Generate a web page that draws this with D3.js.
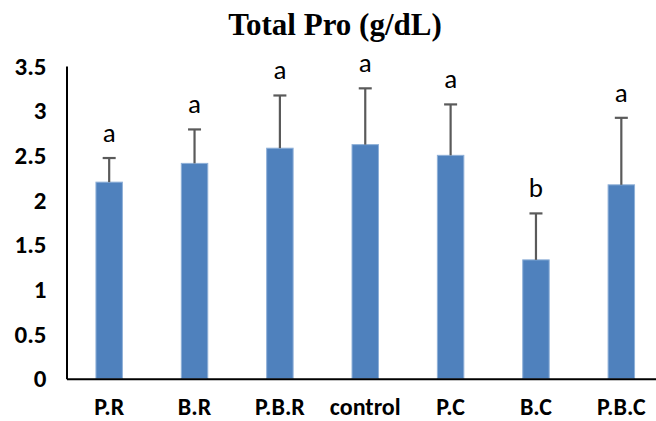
<!DOCTYPE html>
<html>
<head>
<meta charset="utf-8">
<script src="https://cdn.jsdelivr.net/npm/d3@7"></script>
<style>
  html, body { margin: 0; padding: 0; background: #fff; }
  svg { display: block; }
</style>
</head>
<body>
<svg id="chart" width="656" height="421"></svg>
<script>
// Treatment groups and their mean total protein with error margins
const categories = ["P.R", "B.R", "P.B.R", "control", "P.C", "B.C", "P.B.C"];
const means = [2.20, 2.41, 2.58, 2.62, 2.50, 1.33, 2.17];
const errors = [0.27, 0.38, 0.59, 0.63, 0.57, 0.52, 0.75];
const groupLetters = ["a", "a", "a", "a", "a", "b", "a"];
const yTicks = [0, 0.5, 1, 1.5, 2, 2.5, 3, 3.5];

const svg = d3.select("#chart");
const plot = { left: 66.5, right: 664, top: 66, bottom: 378.7 };

const x = d3.scaleBand()
  .domain(categories)
  .range([plot.left, plot.right])
  .paddingInner(0.69)
  .paddingOuter(0.345);

const y = d3.scaleLinear()
  .domain([0, 3.5])
  .range([plot.bottom, plot.top]);

const rows = categories.map((c, i) => ({ c, v: means[i], e: errors[i], g: groupLetters[i] }));

// Title
svg.append("text")
  .attr("x", 335)
  .attr("y", 35)
  .attr("text-anchor", "middle")
  .attr("font-family", "'Liberation Serif', 'Times New Roman', serif")
  .attr("font-weight", "bold")
  .attr("font-size", 31)
  .attr("fill", "#000")
  .text("Total Pro (g/dL)");

// Bars
svg.append("g").selectAll("rect")
  .data(rows)
  .join("rect")
  .attr("x", d => x(d.c))
  .attr("y", d => y(d.v))
  .attr("width", x.bandwidth())
  .attr("height", d => y(0) - y(d.v))
  .attr("fill", "#4F81BD")
  .attr("stroke", "#8fb0d8")
  .attr("stroke-width", 1);

// Error bars (upper only)
const capHalf = 6.5;
const err = svg.append("g")
  .attr("stroke", "#5a5a5a")
  .attr("stroke-width", 2.2);
err.selectAll("line.stem")
  .data(rows)
  .join("line")
  .attr("class", "stem")
  .attr("x1", d => x(d.c) + x.bandwidth() / 2)
  .attr("x2", d => x(d.c) + x.bandwidth() / 2)
  .attr("y1", d => y(d.v))
  .attr("y2", d => y(d.v + d.e));
err.selectAll("line.cap")
  .data(rows)
  .join("line")
  .attr("class", "cap")
  .attr("x1", d => x(d.c) + x.bandwidth() / 2 - capHalf)
  .attr("x2", d => x(d.c) + x.bandwidth() / 2 + capHalf)
  .attr("y1", d => y(d.v + d.e))
  .attr("y2", d => y(d.v + d.e));

// Significance letters
svg.append("g").selectAll("text")
  .data(rows)
  .join("text")
  .attr("x", d => x(d.c) + x.bandwidth() / 2)
  .attr("y", d => y(d.v + d.e) - 16)
  .attr("text-anchor", "middle")
  .attr("font-family", "Carlito, Lato, 'Open Sans', sans-serif")
  .attr("font-size", 27)
  .attr("fill", "#000")
  .text(d => d.g);

// Y axis
const yAxis = svg.append("g")
  .attr("transform", `translate(${plot.left},0)`)
  .call(d3.axisLeft(y).tickValues(yTicks).tickSize(0).tickPadding(20).tickFormat(d3.format("")));
yAxis.select(".domain").attr("stroke", "#000").attr("stroke-width", 2);
yAxis.selectAll("text")
  .attr("font-family", "Carlito, Lato, sans-serif")
  .attr("font-weight", "bold")
  .attr("font-size", 25)
  .attr("fill", "#000");

// X axis
const xAxis = svg.append("g")
  .attr("transform", `translate(0,${plot.bottom})`)
  .call(d3.axisBottom(x).tickSize(0).tickPadding(19));
xAxis.select(".domain").attr("stroke", "#000").attr("stroke-width", 2);
xAxis.selectAll("text")
  .attr("font-family", "Carlito, Lato, sans-serif")
  .attr("font-weight", "bold")
  .attr("font-size", 24)
  .attr("fill", "#000");
</script>
</body>
</html>
